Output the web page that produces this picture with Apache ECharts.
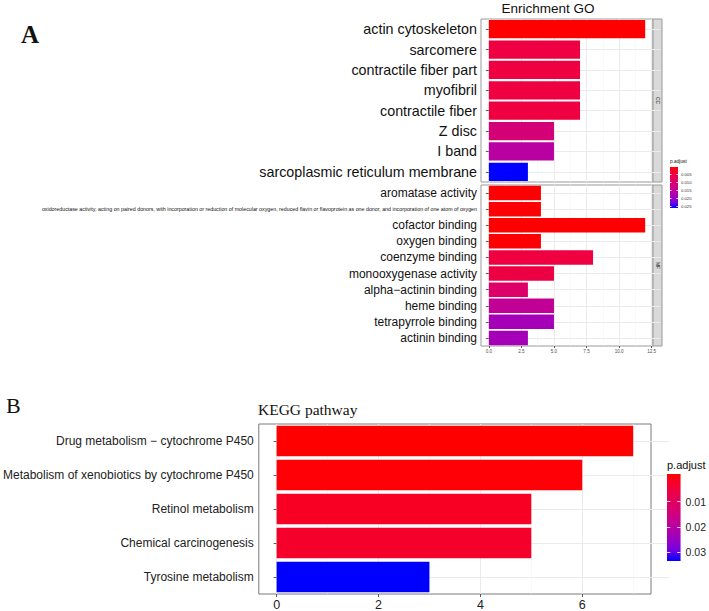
<!DOCTYPE html>
<html><head><meta charset="utf-8">
<script src="https://cdn.jsdelivr.net/npm/echarts@6/dist/echarts.min.js"></script>
<style>html,body{margin:0;padding:0;background:#fff}#c{width:709px;height:611px}</style>
</head><body><div id="c"></div>
<script>
// ---- data ----
const ccTerms = ['actin cytoskeleton','sarcomere','contractile fiber part','myofibril','contractile fiber','Z disc','I band','sarcoplasmic reticulum membrane'];
const ccCounts = [12,7,7,7,7,5,5,3];
const ccPadj = [0.0012,0.0058,0.0058,0.0058,0.0058,0.0114,0.0158,0.0255];
const mfTerms = ['aromatase activity','oxidoreductase activity, acting on paired donors, with incorporation or reduction of molecular oxygen, reduced flavin or flavoprotein as one donor, and incorporation of one atom of oxygen','cofactor binding','oxygen binding','coenzyme binding','monooxygenase activity','alpha\u2212actinin binding','heme binding','tetrapyrrole binding','actinin binding'];
const mfCounts = [4,4,12,4,8,5,3,5,5,3];
const mfPadj = [0.0014,0.0014,0.0012,0.0014,0.0058,0.0060,0.0099,0.0146,0.0182,0.0182];
const goAxisTicks = [0,2.5,5,7.5,10,12.5];
const goMinorTicks = [1.25,3.75,6.25,8.75,11.25];
const goLegendTicks = [0.005,0.010,0.015,0.020,0.025];
const keggTerms = ['Drug metabolism \u2212 cytochrome P450','Metabolism of xenobiotics by cytochrome P450','Retinol metabolism','Chemical carcinogenesis','Tyrosine metabolism'];
const keggCounts = [7,6,5,5,3];
const keggPadj = [0.00002,0.0005,0.0030,0.0036,0.0325];
const keggAxisTicks = [0,2,4,6];
const keggMinorTicks = [1,3,5,7];
const keggLegendTicks = [0.01,0.02,0.03];

// ---- helpers ----
const SANS = 'Liberation Sans, Arial, sans-serif';
const SERIF = 'Liberation Serif, Times New Roman, serif';
const ramp = ['#FF0000','#F40031','#E80050','#DA006C','#CA0089','#B500A5','#9A00C3','#7300E0','#0000FF'];
const goAll = ccPadj.concat(mfPadj);
const goMin = Math.min(...goAll), goMax = Math.max(...goAll);
const kgMin = Math.min(...keggPadj), kgMax = Math.max(...keggPadj);
function legendRange(lo, hi){ const e = (hi-lo)*0.025/0.95; return [lo-e, hi+e]; }
function countRange(arr){ const m = Math.max(...arr); return [-0.05*m, 1.05*m]; }
const goRange = countRange(ccCounts.concat(mfCounts));
const kgRange = countRange(keggCounts);
const goLeg = legendRange(goMin, goMax);
const kgLeg = legendRange(kgMin, kgMax);
const grad = () => new echarts.graphic.LinearGradient(0,0,0,1, ramp.map((c,i)=>({offset:i/(ramp.length-1), color:c})));

const G = {
  cc:{left:481, top:19, width:172, height:163},
  mf:{left:481, top:185, width:172, height:161},
  kg:{left:258, top:424, width:393, height:172},
  gl:{left:670, top:167, width:8, height:41},
  kl:{left:667, top:474, width:17, height:87}
};

function mainX(grid, range, ticks, showLab, labOpt){
  return {type:'value', gridIndex:grid, min:range[0], max:range[1], position:'bottom',
    axisLine:{show:false},
    axisTick:{show:showLab, customValues:ticks, length:labOpt?labOpt.tick:2, lineStyle:{color:'#333', width:0.8}},
    axisLabel:Object.assign({show:showLab, customValues:ticks, fontFamily:SANS}, labOpt?labOpt.label:{}),
    splitLine:{show:true, customValues:ticks, lineStyle:{color:'#EBEBEB', width:1}},
    minorSplitLine:{show:false}
  };
}
function minorX(grid, range, ticks){
  return {type:'value', gridIndex:grid, min:range[0], max:range[1], position:'top',
    axisLine:{show:false}, axisTick:{show:false, customValues:ticks}, axisLabel:{show:false, customValues:ticks},
    splitLine:{show:true, customValues:ticks, lineStyle:{color:'#F5F5F5', width:0.6}}};
}
function labelY(grid, data, fs, margin, color){
  return {type:'category', gridIndex:grid, data:data, inverse:true, position:'left',
    axisLine:{show:false},
    axisTick:{show:true, alignWithLabel:true, length:3, lineStyle:{color:'#333', width:0.8}},
    axisLabel:{interval:0, fontSize:fs, color:color, fontFamily:SANS, margin:margin,
      formatter:v => v.length > 60 ? '{s|' + v + '}' : v,
      rich:{s:{fontSize:5.3, color:color, fontFamily:SANS}}}};
}
function gridY(grid, data, len){
  return {type:'category', gridIndex:grid, data:data, inverse:true, position:'left',
    axisLine:{show:false}, axisLabel:{show:false},
    axisTick:{show:true, inside:true, alignWithLabel:true, length:len, lineStyle:{color:'#EBEBEB', width:1}}};
}
function legY(grid, range, ticks, pos, lab, tickLen){
  return {type:'value', gridIndex:grid, min:range[0], max:range[1], inverse:true, position:pos, z:5,
    axisLine:{show:false}, splitLine:{show:false},
    axisTick:{show:true, inside:true, length:tickLen, customValues:ticks, lineStyle:{color:'#fff', width:0.8}},
    axisLabel:lab ? Object.assign({show:true, customValues:ticks, fontFamily:SANS}, lab) : {show:false}};
}
function barSeries(xi, yi, terms, counts, padj){
  return {type:'bar', xAxisIndex:xi, yAxisIndex:yi, barCategoryGap:'10%',
    data:terms.map((t,i)=>[counts[i], t, padj[i]]), encode:{x:0, y:1}};
}
function legSeries(xi, yi, range){
  return {type:'custom', xAxisIndex:xi, yAxisIndex:yi, data:[[0, range[0], range[1]]],
    renderItem:(params, api) => {
      const p0 = api.coord([api.value(0), api.value(1)]);
      const p1 = api.coord([api.value(0), api.value(2)]);
      const w = api.size([1, 0])[0];
      return {type:'rect', shape:{x:p0[0]-w/2, y:Math.min(p0[1],p1[1]), width:w, height:Math.abs(p1[1]-p0[1])},
        style:{fill:grad()}};
    }};
}
function txt(text, x, y, font, align, rot){
  return {type:'text', x:x, y:y, rotation:rot||0, silent:true,
    style:{text:text, font:font, fill:'#111', align:align||'left', verticalAlign:'middle'}};
}

const option = {
  animation:false,
  backgroundColor:'#fff',
  grid:[
    Object.assign({show:true, borderColor:'#9a9a9a', borderWidth:1}, G.cc),
    Object.assign({show:true, borderColor:'#9a9a9a', borderWidth:1}, G.mf),
    Object.assign({show:true, borderColor:'#7a7a7a', borderWidth:1}, G.kg),
    Object.assign({show:false}, G.gl),
    Object.assign({show:false}, G.kl)
  ],
  xAxis:[
    mainX(0, goRange, goAxisTicks, false),
    minorX(0, goRange, goMinorTicks),
    mainX(1, goRange, goAxisTicks, true, {tick:2, label:{fontSize:4.6, color:'#4D4D4D', margin:3, formatter:v=>v.toFixed(1)}}),
    minorX(1, goRange, goMinorTicks),
    mainX(2, kgRange, keggAxisTicks, true, {tick:3, label:{fontSize:12.5, color:'#222', margin:4, formatter:v=>String(v)}}),
    minorX(2, kgRange, keggMinorTicks),
    {type:'category', gridIndex:3, data:['bar'], show:false},
    {type:'category', gridIndex:4, data:['bar'], show:false}
  ],
  yAxis:[
    labelY(0, ccTerms, 14.3, 4, '#111'),
    gridY(0, ccTerms, G.cc.width),
    labelY(1, mfTerms, 12, 4, '#111'),
    gridY(1, mfTerms, G.mf.width),
    labelY(2, keggTerms, 12, 5, '#222'),
    gridY(2, keggTerms, G.kg.width),
    legY(3, goLeg, goLegendTicks, 'right', {fontSize:4.2, color:'#333', margin:3, formatter:v=>v.toFixed(3)}, 1.6),
    legY(3, goLeg, goLegendTicks, 'left', null, 1.6),
    legY(4, kgLeg, keggLegendTicks, 'right', {fontSize:10.5, color:'#222', margin:5, formatter:v=>v.toFixed(2)}, 3.4),
    legY(4, kgLeg, keggLegendTicks, 'left', null, 3.4)
  ],
  visualMap:[
    {type:'continuous', show:false, seriesIndex:[0,1], dimension:2, min:goMin, max:goMax, inRange:{color:ramp}},
    {type:'continuous', show:false, seriesIndex:[2], dimension:2, min:kgMin, max:kgMax, inRange:{color:ramp}}
  ],
  series:[
    barSeries(0, 0, ccTerms, ccCounts, ccPadj),
    barSeries(2, 2, mfTerms, mfCounts, mfPadj),
    barSeries(4, 4, keggTerms, keggCounts, keggPadj),
    legSeries(6, 6, goLeg),
    legSeries(7, 8, kgLeg)
  ],
  graphic:[
    {type:'rect', shape:{x:653, y:19, width:9, height:163}, style:{fill:'#D9D9D9', stroke:'#9a9a9a', lineWidth:1}, silent:true},
    {type:'rect', shape:{x:653, y:185, width:9, height:161}, style:{fill:'#D9D9D9', stroke:'#9a9a9a', lineWidth:1}, silent:true},
    txt('CC', 657.5, 100.5, '5px ' + SANS, 'center', -Math.PI/2),
    txt('MF', 657.5, 265.5, '5px ' + SANS, 'center', -Math.PI/2),
    txt('A', 21, 34, 'bold 25px ' + SERIF, 'left'),
    txt('Enrichment GO', 548, 8, '13.5px ' + SANS, 'center'),
    txt('p.adjust', 670, 161, '4.8px ' + SANS, 'left'),
    txt('B', 6, 405, '22px ' + SERIF, 'left'),
    txt('KEGG pathway', 258, 409, '15.5px ' + SERIF, 'left'),
    txt('p.adjust', 667, 465, '11px ' + SANS, 'left')
  ]
};
const chart = echarts.init(document.getElementById('c'), null, {renderer:'svg', width:709, height:611});
chart.setOption(option);
</script>
</body></html>
